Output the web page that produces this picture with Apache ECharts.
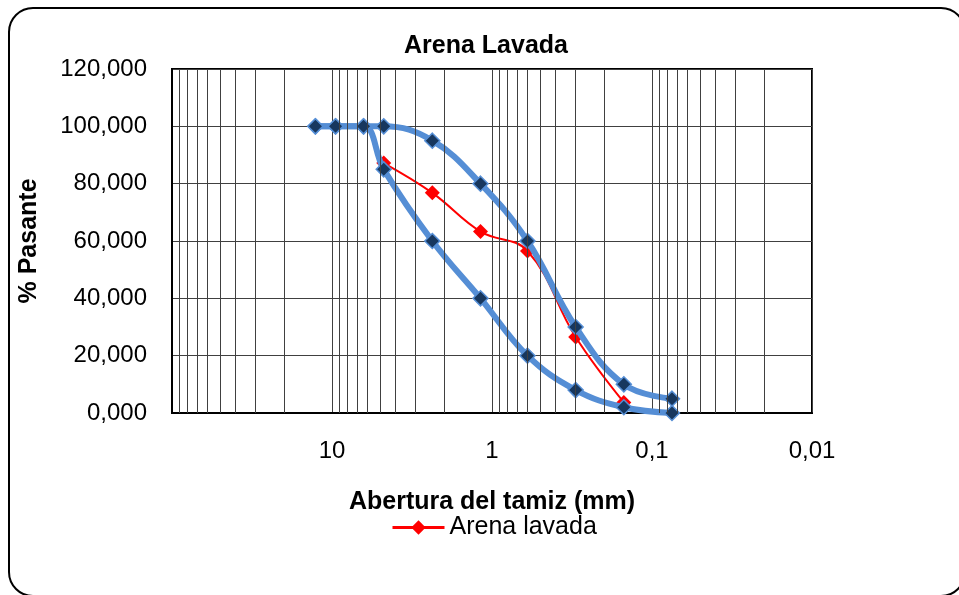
<!DOCTYPE html>
<html>
<head>
<meta charset="utf-8">
<script src="https://cdn.jsdelivr.net/npm/echarts@6/dist/echarts.min.js"></script>
<style>
html,body{margin:0;padding:0;background:#fff;}
#chart{width:959px;height:595px;}
</style>
</head>
<body>
<div id="chart"></div>
<script>
// ---- data ----
var sieveSizes = [12.7, 9.5, 6.35, 4.75, 2.36, 1.18, 0.6, 0.3, 0.15, 0.075];
var upperLimit = [100, 100, 100, 100, 95, 80, 60, 30, 10, 5];
var lowerLimit = [100, 100, 100, 85, 60, 40, 20, 8, 2, 0];
var sampleSizes = [4.75, 2.36, 1.18, 0.6, 0.3, 0.15];
var samplePassing = [87.2, 76.8, 63.3, 56.5, 26.5, 3.7];
var xTickValues = [100, 10, 1, 0.1, 0.01];
var xTickLabels = ['', '10', '1', '0,1', '0,01'];
var minorMultipliers = [2, 3, 4, 5, 6, 7, 8, 9];
var decades = [0.01, 0.1, 1, 10];

function pairs(xs, ys) { return xs.map(function (x, i) { return [x, ys[i]]; }); }

var minorLines = [];
decades.forEach(function (d) {
  minorMultipliers.forEach(function (m) {
    minorLines.push({ xAxis: +(m * d).toPrecision(6) });
  });
});

var FONT = 'Liberation Sans, Arial, sans-serif';
var GRIDC = '#404040';

var chart = echarts.init(document.getElementById('chart'), null, { renderer: 'canvas' });
chart.setOption({
  backgroundColor: '#ffffff',
  animation: false,
  title: {
    text: 'Arena Lavada',
    left: 404, top: 34, padding: 0,
    textStyle: { fontFamily: FONT, fontSize: 25, fontWeight: 'bold', color: '#000' }
  },
  legend: {
    left: 391, top: 515, padding: 0,
    itemWidth: 52, itemHeight: 18,
    data: ['Arena lavada'],
    lineStyle: { width: 3 },
    textStyle: { fontFamily: FONT, fontSize: 25, color: '#000' }
  },
  grid: { left: 172, right: 147, top: 69, bottom: 182, show: true, borderColor: '#000', borderWidth: 2, backgroundColor: 'transparent' },
  xAxis: {
    type: 'log', logBase: 10, min: 0.01, max: 100, inverse: true, splitNumber: 4,
    name: 'Abertura del tamiz (mm)', nameLocation: 'middle', nameGap: 77,
    nameTextStyle: { fontFamily: FONT, fontSize: 25, fontWeight: 'bold', color: '#000' },
    axisLine: { show: true, lineStyle: { color: '#000', width: 2 } },
    axisTick: { show: false },
    splitLine: { show: true, lineStyle: { color: GRIDC, width: 1 } },
    axisLabel: {
      margin: 26, fontFamily: FONT, fontSize: 24, color: '#000',
      formatter: function (v) {
        var best = 0, bd = Infinity;
        xTickValues.forEach(function (t, i) {
          var d = Math.abs(Math.log10(v) - Math.log10(t));
          if (d < bd) { bd = d; best = i; }
        });
        return xTickLabels[best];
      }
    }
  },
  yAxis: {
    type: 'value', min: 0, max: 120, interval: 20,
    name: '% Pasante', nameLocation: 'middle', nameGap: 130,
    nameTextStyle: { fontFamily: FONT, fontSize: 25, fontWeight: 'bold', color: '#000' },
    axisLine: { show: true, lineStyle: { color: '#000', width: 2 } },
    axisTick: { show: false },
    splitLine: { show: true, lineStyle: { color: GRIDC, width: 1 } },
    axisLabel: {
      margin: 25, fontFamily: FONT, fontSize: 24, color: '#000',
      formatter: function (v) { return v.toFixed(3).replace('.', ','); }
    }
  },
  graphic: [{
    type: 'rect', z: 100, silent: true,
    shape: { x: 9, y: 8, width: 956, height: 588, r: 24 },
    style: { fill: 'transparent', stroke: '#000', lineWidth: 2 }
  }],
  series: [
    {
      name: 'grid-minor', type: 'line', data: [], z: 0, silent: true,
      markLine: {
        silent: true, symbol: ['none', 'none'], label: { show: false },
        lineStyle: { type: 'solid', color: GRIDC, width: 1 },
        emphasis: { disabled: true },
        data: minorLines
      }
    },
    {
      name: 'Arena lavada', type: 'line', z: 3,
      data: pairs(sampleSizes, samplePassing),
      smooth: 0.4,
      symbol: 'diamond', symbolSize: 15,
      lineStyle: { color: '#FF0000', width: 2 },
      itemStyle: { color: '#FF0000' }
    },
    {
      name: 'Límite superior', type: 'line', z: 4,
      data: pairs(sieveSizes, upperLimit),
      smooth: 0.4,
      symbol: 'diamond', symbolSize: 15,
      lineStyle: { color: '#558ED5', width: 6 },
      itemStyle: { color: '#17375E', borderColor: '#558ED5', borderWidth: 1.5 }
    },
    {
      name: 'Límite inferior', type: 'line', z: 4,
      data: pairs(sieveSizes, lowerLimit),
      smooth: 0.4,
      symbol: 'diamond', symbolSize: 15,
      lineStyle: { color: '#558ED5', width: 6 },
      itemStyle: { color: '#17375E', borderColor: '#558ED5', borderWidth: 1.5 }
    }
  ]
});
</script>
</body>
</html>
